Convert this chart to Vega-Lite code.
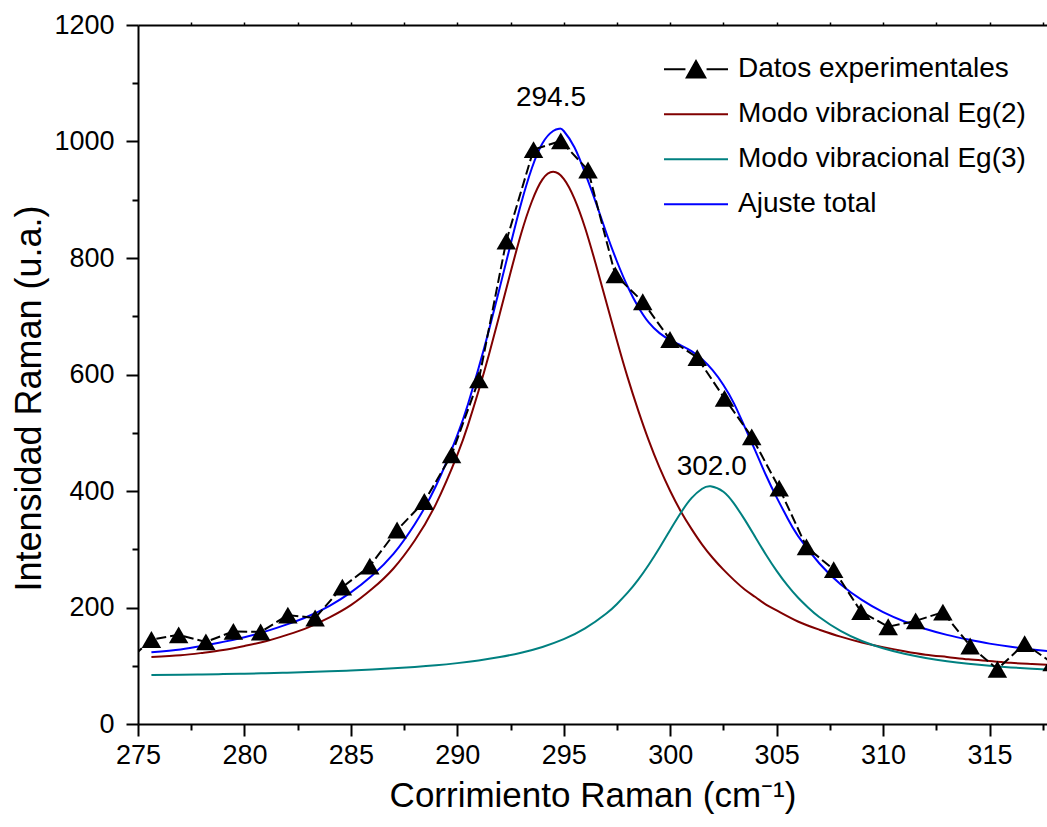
{
  "$schema": "https://vega.github.io/schema/vega-lite/v6.json",
  "width": 909,
  "height": 699,
  "autosize": {"type": "none"},
  "padding": {"left": 138, "top": 25, "right": 0, "bottom": 103},
  "background": "white",
  "config": {
    "font": "Liberation Sans",
    "view": {"stroke": null},
    "axis": {"grid": false, "domainColor": "black", "tickColor": "black", "labelColor": "black", "titleColor": "black", "domainWidth": 2, "tickWidth": 2, "labelFont": "Liberation Sans", "titleFont": "Liberation Sans", "titleFontWeight": "normal"}
  },
  "datasets": {
    "exp": [
      {"x": 274.35, "y": 102}, {"x": 275.63, "y": 145}, {"x": 276.91, "y": 153}, {"x": 278.19, "y": 141},
      {"x": 279.48, "y": 159}, {"x": 280.76, "y": 158}, {"x": 282.04, "y": 187}, {"x": 283.32, "y": 182},
      {"x": 284.6, "y": 235}, {"x": 285.89, "y": 271}, {"x": 287.17, "y": 333}, {"x": 288.45, "y": 382},
      {"x": 289.73, "y": 462}, {"x": 291.01, "y": 591}, {"x": 292.3, "y": 829}, {"x": 293.58, "y": 986},
      {"x": 294.86, "y": 1001}, {"x": 296.14, "y": 951}, {"x": 297.42, "y": 771}, {"x": 298.71, "y": 725},
      {"x": 299.99, "y": 660}, {"x": 301.27, "y": 629}, {"x": 302.55, "y": 559}, {"x": 303.83, "y": 493},
      {"x": 305.12, "y": 405}, {"x": 306.4, "y": 304}, {"x": 307.68, "y": 265}, {"x": 308.96, "y": 193},
      {"x": 310.24, "y": 167}, {"x": 311.53, "y": 177}, {"x": 312.81, "y": 192}, {"x": 314.09, "y": 134},
      {"x": 315.37, "y": 94}, {"x": 316.65, "y": 138}, {"x": 317.94, "y": 105}
    ],
    "fits": [
      {"serie": "Modo vibracional Eg(2)", "x": 275.63, "y": 115}, {"serie": "Modo vibracional Eg(2)", "x": 277, "y": 118},
      {"serie": "Modo vibracional Eg(2)", "x": 278, "y": 122}, {"serie": "Modo vibracional Eg(2)", "x": 279, "y": 127},
      {"serie": "Modo vibracional Eg(2)", "x": 280, "y": 134}, {"serie": "Modo vibracional Eg(2)", "x": 281, "y": 142},
      {"serie": "Modo vibracional Eg(2)", "x": 282, "y": 153}, {"serie": "Modo vibracional Eg(2)", "x": 283, "y": 166},
      {"serie": "Modo vibracional Eg(2)", "x": 284, "y": 183}, {"serie": "Modo vibracional Eg(2)", "x": 285, "y": 204},
      {"serie": "Modo vibracional Eg(2)", "x": 286, "y": 232}, {"serie": "Modo vibracional Eg(2)", "x": 287, "y": 267},
      {"serie": "Modo vibracional Eg(2)", "x": 288, "y": 315}, {"serie": "Modo vibracional Eg(2)", "x": 289, "y": 378},
      {"serie": "Modo vibracional Eg(2)", "x": 290, "y": 462}, {"serie": "Modo vibracional Eg(2)", "x": 290.5, "y": 513},
      {"serie": "Modo vibracional Eg(2)", "x": 291, "y": 572}, {"serie": "Modo vibracional Eg(2)", "x": 291.5, "y": 636},
      {"serie": "Modo vibracional Eg(2)", "x": 292, "y": 705}, {"serie": "Modo vibracional Eg(2)", "x": 292.5, "y": 775},
      {"serie": "Modo vibracional Eg(2)", "x": 293, "y": 842}, {"serie": "Modo vibracional Eg(2)", "x": 293.5, "y": 897},
      {"serie": "Modo vibracional Eg(2)", "x": 294, "y": 935}, {"serie": "Modo vibracional Eg(2)", "x": 294.5, "y": 948},
      {"serie": "Modo vibracional Eg(2)", "x": 295, "y": 936}, {"serie": "Modo vibracional Eg(2)", "x": 295.5, "y": 902},
      {"serie": "Modo vibracional Eg(2)", "x": 296, "y": 852}, {"serie": "Modo vibracional Eg(2)", "x": 296.5, "y": 790},
      {"serie": "Modo vibracional Eg(2)", "x": 297, "y": 724}, {"serie": "Modo vibracional Eg(2)", "x": 297.5, "y": 658},
      {"serie": "Modo vibracional Eg(2)", "x": 298, "y": 595}, {"serie": "Modo vibracional Eg(2)", "x": 298.5, "y": 538},
      {"serie": "Modo vibracional Eg(2)", "x": 299, "y": 486}, {"serie": "Modo vibracional Eg(2)", "x": 299.5, "y": 440},
      {"serie": "Modo vibracional Eg(2)", "x": 300, "y": 400}, {"serie": "Modo vibracional Eg(2)", "x": 300.5, "y": 365},
      {"serie": "Modo vibracional Eg(2)", "x": 301, "y": 335}, {"serie": "Modo vibracional Eg(2)", "x": 301.5, "y": 308},
      {"serie": "Modo vibracional Eg(2)", "x": 302, "y": 285}, {"serie": "Modo vibracional Eg(2)", "x": 302.5, "y": 265},
      {"serie": "Modo vibracional Eg(2)", "x": 303, "y": 247}, {"serie": "Modo vibracional Eg(2)", "x": 303.5, "y": 231},
      {"serie": "Modo vibracional Eg(2)", "x": 304, "y": 218}, {"serie": "Modo vibracional Eg(2)", "x": 304.5, "y": 205},
      {"serie": "Modo vibracional Eg(2)", "x": 305, "y": 195}, {"serie": "Modo vibracional Eg(2)", "x": 306, "y": 176},
      {"serie": "Modo vibracional Eg(2)", "x": 307, "y": 162}, {"serie": "Modo vibracional Eg(2)", "x": 308, "y": 150},
      {"serie": "Modo vibracional Eg(2)", "x": 309, "y": 140}, {"serie": "Modo vibracional Eg(2)", "x": 310, "y": 132},
      {"serie": "Modo vibracional Eg(2)", "x": 311, "y": 125}, {"serie": "Modo vibracional Eg(2)", "x": 312, "y": 119},
      {"serie": "Modo vibracional Eg(2)", "x": 313, "y": 115}, {"serie": "Modo vibracional Eg(2)", "x": 314, "y": 111},
      {"serie": "Modo vibracional Eg(2)", "x": 315, "y": 108}, {"serie": "Modo vibracional Eg(2)", "x": 316, "y": 105},
      {"serie": "Modo vibracional Eg(2)", "x": 317, "y": 103}, {"serie": "Modo vibracional Eg(2)", "x": 318, "y": 101},

      {"serie": "Modo vibracional Eg(3)", "x": 275.63, "y": 84}, {"serie": "Modo vibracional Eg(3)", "x": 277, "y": 84.5},
      {"serie": "Modo vibracional Eg(3)", "x": 278, "y": 85}, {"serie": "Modo vibracional Eg(3)", "x": 279, "y": 85.7},
      {"serie": "Modo vibracional Eg(3)", "x": 280, "y": 86.4}, {"serie": "Modo vibracional Eg(3)", "x": 281, "y": 87.2},
      {"serie": "Modo vibracional Eg(3)", "x": 282, "y": 88.1}, {"serie": "Modo vibracional Eg(3)", "x": 283, "y": 89.1},
      {"serie": "Modo vibracional Eg(3)", "x": 284, "y": 90.4}, {"serie": "Modo vibracional Eg(3)", "x": 285, "y": 91.8},
      {"serie": "Modo vibracional Eg(3)", "x": 286, "y": 93.4}, {"serie": "Modo vibracional Eg(3)", "x": 287, "y": 95.5},
      {"serie": "Modo vibracional Eg(3)", "x": 288, "y": 97.9}, {"serie": "Modo vibracional Eg(3)", "x": 289, "y": 100.8},
      {"serie": "Modo vibracional Eg(3)", "x": 290, "y": 104.5}, {"serie": "Modo vibracional Eg(3)", "x": 291, "y": 109},
      {"serie": "Modo vibracional Eg(3)", "x": 292, "y": 114.9}, {"serie": "Modo vibracional Eg(3)", "x": 293, "y": 122.4},
      {"serie": "Modo vibracional Eg(3)", "x": 294, "y": 132.3}, {"serie": "Modo vibracional Eg(3)", "x": 295, "y": 145.7},
      {"serie": "Modo vibracional Eg(3)", "x": 296, "y": 164.1}, {"serie": "Modo vibracional Eg(3)", "x": 297, "y": 189.7},
      {"serie": "Modo vibracional Eg(3)", "x": 297.5, "y": 206.1}, {"serie": "Modo vibracional Eg(3)", "x": 298, "y": 225.4},
      {"serie": "Modo vibracional Eg(3)", "x": 298.5, "y": 247.8}, {"serie": "Modo vibracional Eg(3)", "x": 299, "y": 273.9},
      {"serie": "Modo vibracional Eg(3)", "x": 299.5, "y": 302.7}, {"serie": "Modo vibracional Eg(3)", "x": 300, "y": 333.1},
      {"serie": "Modo vibracional Eg(3)", "x": 300.5, "y": 362.6}, {"serie": "Modo vibracional Eg(3)", "x": 301, "y": 387.7},
      {"serie": "Modo vibracional Eg(3)", "x": 301.5, "y": 403.8}, {"serie": "Modo vibracional Eg(3)", "x": 301.9, "y": 408},
      {"serie": "Modo vibracional Eg(3)", "x": 302.5, "y": 398.7}, {"serie": "Modo vibracional Eg(3)", "x": 303, "y": 378.2},
      {"serie": "Modo vibracional Eg(3)", "x": 303.5, "y": 350.9}, {"serie": "Modo vibracional Eg(3)", "x": 304, "y": 320.6},
      {"serie": "Modo vibracional Eg(3)", "x": 304.5, "y": 290.6}, {"serie": "Modo vibracional Eg(3)", "x": 305, "y": 262.9},
      {"serie": "Modo vibracional Eg(3)", "x": 305.5, "y": 238.3}, {"serie": "Modo vibracional Eg(3)", "x": 306, "y": 217.1},
      {"serie": "Modo vibracional Eg(3)", "x": 306.5, "y": 199.1}, {"serie": "Modo vibracional Eg(3)", "x": 307, "y": 183.7},
      {"serie": "Modo vibracional Eg(3)", "x": 308, "y": 159.7}, {"serie": "Modo vibracional Eg(3)", "x": 309, "y": 142.5},
      {"serie": "Modo vibracional Eg(3)", "x": 310, "y": 129.9}, {"serie": "Modo vibracional Eg(3)", "x": 311, "y": 120.5},
      {"serie": "Modo vibracional Eg(3)", "x": 312, "y": 113.4}, {"serie": "Modo vibracional Eg(3)", "x": 313, "y": 107.8},
      {"serie": "Modo vibracional Eg(3)", "x": 314, "y": 103.5}, {"serie": "Modo vibracional Eg(3)", "x": 315, "y": 100},
      {"serie": "Modo vibracional Eg(3)", "x": 316, "y": 97.2}, {"serie": "Modo vibracional Eg(3)", "x": 317, "y": 94.8},
      {"serie": "Modo vibracional Eg(3)", "x": 318, "y": 92.9},

      {"serie": "Ajuste total", "x": 275.63, "y": 123}, {"serie": "Ajuste total", "x": 277, "y": 128},
      {"serie": "Ajuste total", "x": 278, "y": 134}, {"serie": "Ajuste total", "x": 279, "y": 141},
      {"serie": "Ajuste total", "x": 280, "y": 149}, {"serie": "Ajuste total", "x": 281, "y": 159},
      {"serie": "Ajuste total", "x": 282, "y": 171}, {"serie": "Ajuste total", "x": 283, "y": 185},
      {"serie": "Ajuste total", "x": 284, "y": 203}, {"serie": "Ajuste total", "x": 285, "y": 226},
      {"serie": "Ajuste total", "x": 286, "y": 255}, {"serie": "Ajuste total", "x": 287, "y": 292},
      {"serie": "Ajuste total", "x": 288, "y": 343}, {"serie": "Ajuste total", "x": 289, "y": 409},
      {"serie": "Ajuste total", "x": 290, "y": 496}, {"serie": "Ajuste total", "x": 290.5, "y": 549},
      {"serie": "Ajuste total", "x": 291, "y": 611}, {"serie": "Ajuste total", "x": 291.5, "y": 678},
      {"serie": "Ajuste total", "x": 292, "y": 750}, {"serie": "Ajuste total", "x": 292.5, "y": 823},
      {"serie": "Ajuste total", "x": 293, "y": 894}, {"serie": "Ajuste total", "x": 293.5, "y": 954},
      {"serie": "Ajuste total", "x": 294, "y": 997}, {"serie": "Ajuste total", "x": 294.5, "y": 1018},
      {"serie": "Ajuste total", "x": 294.8, "y": 1022}, {"serie": "Ajuste total", "x": 295, "y": 1018},
      {"serie": "Ajuste total", "x": 295.5, "y": 990}, {"serie": "Ajuste total", "x": 296, "y": 946},
      {"serie": "Ajuste total", "x": 296.5, "y": 896}, {"serie": "Ajuste total", "x": 297, "y": 843},
      {"serie": "Ajuste total", "x": 297.5, "y": 794}, {"serie": "Ajuste total", "x": 298, "y": 751},
      {"serie": "Ajuste total", "x": 298.5, "y": 716}, {"serie": "Ajuste total", "x": 299, "y": 689},
      {"serie": "Ajuste total", "x": 299.5, "y": 671}, {"serie": "Ajuste total", "x": 300, "y": 659},
      {"serie": "Ajuste total", "x": 300.5, "y": 650}, {"serie": "Ajuste total", "x": 301, "y": 640},
      {"serie": "Ajuste total", "x": 301.5, "y": 626}, {"serie": "Ajuste total", "x": 302, "y": 607},
      {"serie": "Ajuste total", "x": 302.5, "y": 582}, {"serie": "Ajuste total", "x": 303, "y": 550},
      {"serie": "Ajuste total", "x": 303.5, "y": 510}, {"serie": "Ajuste total", "x": 304, "y": 469},
      {"serie": "Ajuste total", "x": 304.5, "y": 427}, {"serie": "Ajuste total", "x": 305, "y": 389},
      {"serie": "Ajuste total", "x": 305.5, "y": 354}, {"serie": "Ajuste total", "x": 306, "y": 323},
      {"serie": "Ajuste total", "x": 307, "y": 276}, {"serie": "Ajuste total", "x": 308, "y": 240},
      {"serie": "Ajuste total", "x": 309, "y": 213}, {"serie": "Ajuste total", "x": 310, "y": 192},
      {"serie": "Ajuste total", "x": 311, "y": 176}, {"serie": "Ajuste total", "x": 312, "y": 163},
      {"serie": "Ajuste total", "x": 313, "y": 153}, {"serie": "Ajuste total", "x": 314, "y": 145},
      {"serie": "Ajuste total", "x": 315, "y": 138}, {"serie": "Ajuste total", "x": 316, "y": 132.5},
      {"serie": "Ajuste total", "x": 317, "y": 128}, {"serie": "Ajuste total", "x": 318, "y": 124}
    ],
    "labels": [
      {"x": 294.4, "y": 1075, "t": "294.5"},
      {"x": 301.95, "y": 441, "t": "302.0"}
    ]
  },
  "layer": [
    {
      "data": {"name": "fits"},
      "mark": {"type": "line", "strokeWidth": 2, "interpolate": "natural", "clip": true},
      "encoding": {
        "x": {"field": "x", "type": "quantitative",
          "scale": {"domain": [275, 317.7], "nice": false, "zero": false},
          "axis": {"orient": "bottom", "values": [275, 280, 285, 290, 295, 300, 305, 310, 315], "title": "Corrimiento Raman (cm⁻¹)",
            "labelFontSize": 27, "titleFontSize": 35, "tickSize": 12, "labelPadding": 6, "titlePadding": 10, "labelFlush": false, "labelOverlap": false, "format": "d"}},
        "y": {"field": "y", "type": "quantitative",
          "scale": {"domain": [0, 1200], "nice": false},
          "axis": {"orient": "left", "values": [0, 200, 400, 600, 800, 1000, 1200], "title": "Intensidad Raman (u.a.)", "format": "d",
            "labelFontSize": 27, "titleFontSize": 36, "tickSize": 12, "labelPadding": 12, "titlePadding": 5, "titleY": 373, "labelFlush": false, "labelOverlap": false}},
        "color": {"field": "serie", "type": "nominal",
          "scale": {"domain": ["Datos experimentales", "Modo vibracional Eg(2)", "Modo vibracional Eg(3)", "Ajuste total"],
                    "range": ["#000000", "#800000", "#008080", "#0000ff"]},
          "legend": {"orient": "none", "legendX": 525, "legendY": 22, "title": null,
            "labelFontSize": 28, "labelFont": "Liberation Sans", "labelColor": "black", "labelOffset": 9, "labelLimit": 0,
            "symbolSize": 4096, "clipHeight": 44.5, "rowPadding": 0, "padding": 0,
            "encode": {"symbols": {"update": {
              "shape": {"signal": "datum.value === 'Datos experimentales' ? 'M-1,0H-0.33M0.33,0H1M-0.29,0.26L0.29,0.26L0,-0.26Z' : 'M-1,0H1'"},
              "fill": {"signal": "datum.value === 'Datos experimentales' ? '#000000' : 'transparent'"},
              "stroke": {"scale": "color", "field": "value"},
              "strokeWidth": {"value": 2},
              "opacity": {"value": 1}
            }}}}
        },
        "detail": {"field": "serie"}
      }
    },
    {
      "data": {"name": "exp"},
      "mark": {"type": "line", "color": "black", "strokeWidth": 2, "strokeDash": [10, 4], "clip": true},
      "encoding": {
        "x": {"field": "x", "type": "quantitative", "axis": null},
        "y": {"field": "y", "type": "quantitative", "axis": null}
      }
    },
    {
      "data": {"name": "exp"},
      "mark": {"type": "point", "shape": "triangle-up", "filled": true, "color": "black", "opacity": 1, "size": 380, "clip": true},
      "encoding": {
        "x": {"field": "x", "type": "quantitative", "axis": null},
        "y": {"field": "y", "type": "quantitative", "axis": null}
      }
    },
    {
      "data": {"name": "labels"},
      "mark": {"type": "text", "fontSize": 28, "font": "Liberation Sans", "color": "black", "align": "center", "baseline": "middle"},
      "encoding": {
        "x": {"field": "x", "type": "quantitative", "axis": null},
        "y": {"field": "y", "type": "quantitative", "axis": null},
        "text": {"field": "t"}
      }
    },
    {
      "data": {"name": "exp"},
      "mark": {"type": "point", "opacity": 0},
      "encoding": {
        "x": {"field": "x", "type": "quantitative",
          "axis": {"orient": "bottom", "values": [277.5, 282.5, 287.5, 292.5, 297.5, 302.5, 307.5, 312.5, 317.5], "labels": false, "domain": false, "title": null, "tickSize": 6}},
        "y": {"field": "y", "type": "quantitative",
          "axis": {"orient": "left", "values": [100, 300, 500, 700, 900, 1100], "labels": false, "domain": false, "title": null, "tickSize": 6}}
      }
    },
    {
      "data": {"name": "exp"},
      "mark": {"type": "point", "opacity": 0},
      "encoding": {
        "x": {"field": "x", "type": "quantitative",
          "axis": {"orient": "top", "values": [277.5, 280, 282.5, 285, 287.5, 290, 292.5, 295, 297.5, 300, 302.5, 305, 307.5, 310, 312.5, 315, 317.5], "labels": false, "title": null, "tickSize": 3, "tickWidth": 1.5}},
        "y": {"field": "y", "type": "quantitative", "axis": null}
      }
    }
  ],
  "resolve": {"axis": {"x": "independent", "y": "independent"}}
}
